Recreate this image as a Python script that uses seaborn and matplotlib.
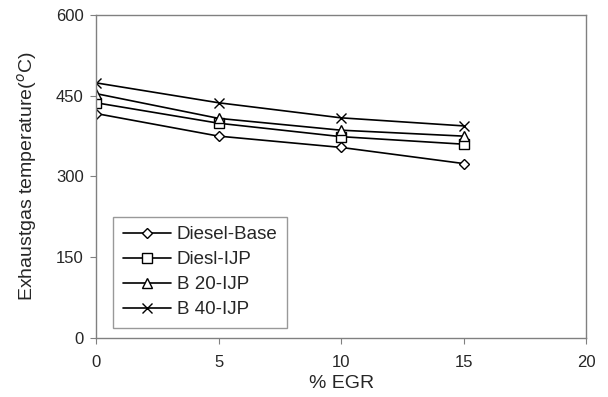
import pandas as pd
import matplotlib.pyplot as plt
import seaborn as sns

# EGR levels (%) and exhaust gas temperatures
egr = [0, 5, 10, 15]
diesel_base = [417, 375, 354, 324]
diesel_ijp = [437, 399, 374, 360]
b20_ijp = [454, 408, 386, 375]
b40_ijp = [474, 437, 409, 394]

series = ['Diesel-Base', 'Diesl-IJP', 'B 20-IJP', 'B 40-IJP']
markers = ['D', 's', '^', 'x']
sizes = [5, 7, 6.5, 7]

data = pd.DataFrame({
    'egr': egr * 4,
    'temp': diesel_base + diesel_ijp + b20_ijp + b40_ijp,
    'fuel': [s for s in series for _ in egr],
})

sns.set_style('white')
plt.rcParams['font.family'] = ['Liberation Sans', 'DejaVu Sans']

fig = plt.figure(figsize=(6.08, 3.97), dpi=100)
ax = fig.add_axes([0.158, 0.149, 0.806, 0.813])

for name, m, ms in zip(series, markers, sizes):
    d = data[data['fuel'] == name]
    sns.lineplot(data=d, x='egr', y='temp', ax=ax, color='black', linewidth=1.2,
                 marker=m, markersize=ms, markerfacecolor='white',
                 markeredgecolor='black', markeredgewidth=1.0, label=name)

ax.set_xlim(0, 20)
ax.set_ylim(0, 600)
ax.set_xticks([0, 5, 10, 15, 20])
ax.set_yticks([0, 150, 300, 450, 600])
ax.set_xlabel('% EGR', fontsize=14, labelpad=4)
ax.set_ylabel('Exhaustgas temperature($^o$C)', fontsize=14, labelpad=12)
ax.tick_params(axis='both', labelsize=12, length=4, color='#808080',
               direction='out', left=True, bottom=True, pad=5)
ax.tick_params(axis='x', pad=8)

for sp in ax.spines.values():
    sp.set_color('#808080')
    sp.set_linewidth(1)

leg = ax.legend(loc='lower left', bbox_to_anchor=(0.035, 0.031), fontsize=13.5,
                frameon=True, fancybox=False, handlelength=2.6, borderaxespad=0,
                handletextpad=0.3, borderpad=0.5, labelspacing=0.42)
leg.get_frame().set_edgecolor('#808080')
leg.get_frame().set_linewidth(1)

fig.savefig('out.png', dpi=100)
